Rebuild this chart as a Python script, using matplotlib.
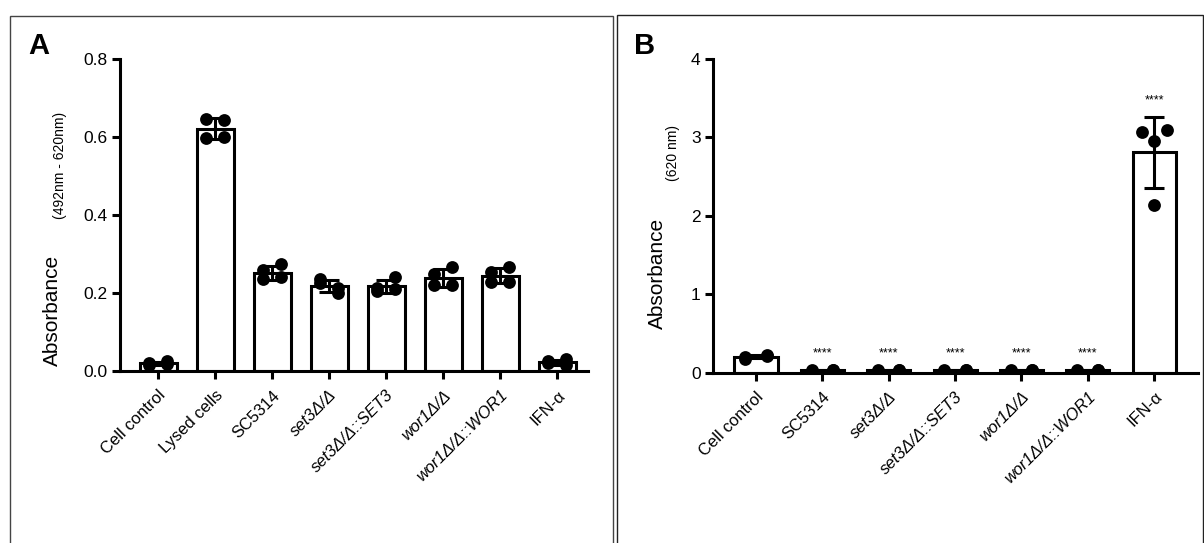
import numpy as np
import matplotlib
matplotlib.use("Agg")
import matplotlib.pyplot as plt
from matplotlib.patches import Rectangle

plt.rcParams['font.family'] = ['Liberation Sans', 'DejaVu Sans']

W, H = 1204, 543

# PANEL A DATA
labels_a = ["Cell control", "Lysed cells", "SC5314", "set3Δ/Δ", "set3Δ/Δ::SET3",
            "wor1Δ/Δ", "wor1Δ/Δ::WOR1", "IFN-α"]
italic_a = [False, False, False, True, True, True, True, False]
points_a = [
    [0.020, 0.025, 0.015, 0.018],
    [0.645, 0.643, 0.598, 0.600],
    [0.258, 0.275, 0.235, 0.240],
    [0.225, 0.200, 0.235, 0.212],
    [0.205, 0.210, 0.212, 0.240],
    [0.250, 0.267, 0.220, 0.220],
    [0.254, 0.267, 0.228, 0.228],
    [0.025, 0.030, 0.020, 0.015],
]
yticks_a = [0.0, 0.2, 0.4, 0.6, 0.8]

# PANEL B DATA
labels_b = ["Cell control", "SC5314", "set3Δ/Δ", "set3Δ/Δ::SET3",
            "wor1Δ/Δ", "wor1Δ/Δ::WOR1", "IFN-α"]
italic_b = [False, False, True, True, True, True, False]
points_b = [
    [0.20, 0.22, 0.18, 0.21],
    [0.030, 0.035, 0.025, 0.030],
    [0.030, 0.030, 0.025, 0.030],
    [0.030, 0.035, 0.025, 0.030],
    [0.035, 0.040, 0.025, 0.030],
    [0.030, 0.030, 0.025, 0.030],
    [3.07, 3.09, 2.95, 2.14],
]
signif_b = ["", "****", "****", "****", "****", "****", "****"]
yticks_b = [0, 1, 2, 3, 4]


def draw_panel(ax, labels, italic, points, yticks, ymax, fmt, offsets):
    x = np.arange(len(labels))
    means = np.array([np.mean(p) for p in points])
    sds = np.array([np.std(p, ddof=1) for p in points])

    ax.bar(x, means, width=0.65, color="white", edgecolor="black", linewidth=2.2, zorder=1)
    ax.errorbar(x, means, yerr=sds, fmt="none", ecolor="black", elinewidth=2.2,
                capsize=7, capthick=2.2, zorder=2)
    for i, p in enumerate(points):
        ax.scatter(x[i] + np.array(offsets[i]), p, s=85, color="black", zorder=3, linewidths=0)

    ax.set_ylim(0, ymax)
    ax.set_yticks(yticks)
    ax.set_yticklabels([fmt.format(t) for t in yticks], fontsize=12.5)
    ax.set_xticks(x)
    ax.set_xticklabels(labels, fontsize=12, rotation=45, ha="right",
                       rotation_mode="anchor")
    for lab, it in zip(ax.get_xticklabels(), italic):
        if it:
            lab.set_fontstyle("italic")
    for s in ["top", "right"]:
        ax.spines[s].set_visible(False)
    for s in ["left", "bottom"]:
        ax.spines[s].set_linewidth(2.2)
    ax.tick_params(width=2.2, length=6, pad=3)
    ax.tick_params(axis="x", pad=6)
    return x, means, sds


fig = plt.figure(figsize=(W / 100, H / 100), dpi=100)

# panel frames
fig.patches.append(Rectangle((10 / W, -0.05), 603 / W, 1 - 16 / H + 0.05, transform=fig.transFigure,
                             fill=False, edgecolor="#444444", linewidth=1))
fig.patches.append(Rectangle((617 / W, -0.05), 586 / W, 1 - 15 / H + 0.05, transform=fig.transFigure,
                             fill=False, edgecolor="#222222", linewidth=1))

std_off = [-0.16, 0.16, -0.16, 0.16]

# A
axA = fig.add_axes([120 / W, 1 - 371 / H, 468 / W, 312 / H])
draw_panel(axA, labels_a, italic_a, points_a, yticks_a, 0.8, "{:.1f}", [std_off] * 8)
axA.set_xlim(-0.667, 7.54)
fig.text(58 / W, 1 - 366 / H, "Absorbance", rotation=90, rotation_mode="anchor",
         ha="left", va="baseline", fontsize=15)
fig.text(64 / W, 1 - 219 / H, "(492nm - 620nm)", rotation=90, rotation_mode="anchor",
         ha="left", va="baseline", fontsize=10)
fig.text(28 / W, 1 - 54 / H, "A", fontsize=21, fontweight="bold", ha="left", va="baseline")

# B
axB = fig.add_axes([713 / W, 1 - 372.7 / H, 485 / W, 313.7 / H])
off_b = [std_off] * 6 + [[-0.19, 0.19, 0.0, 0.0]]
xb, mb, sb = draw_panel(axB, labels_b, italic_b, points_b, yticks_b, 4, "{:d}", off_b)
axB.set_xlim(-0.648, 6.66)
for xi, m, s, t in zip(xb, mb, sb, signif_b):
    if t:
        axB.annotate(t, (xi, m + s), xytext=(0, 12), textcoords="offset points",
                     ha="center", va="center", fontsize=9)
fig.text(663 / W, 1 - 329 / H, "Absorbance", rotation=90, rotation_mode="anchor",
         ha="left", va="baseline", fontsize=15)
fig.text(677 / W, 1 - 181 / H, "(620 nm)", rotation=90, rotation_mode="anchor",
         ha="left", va="baseline", fontsize=10)
fig.text(634 / W, 1 - 54 / H, "B", fontsize=21, fontweight="bold", ha="left", va="baseline")

fig.savefig("out.png", dpi=100)
